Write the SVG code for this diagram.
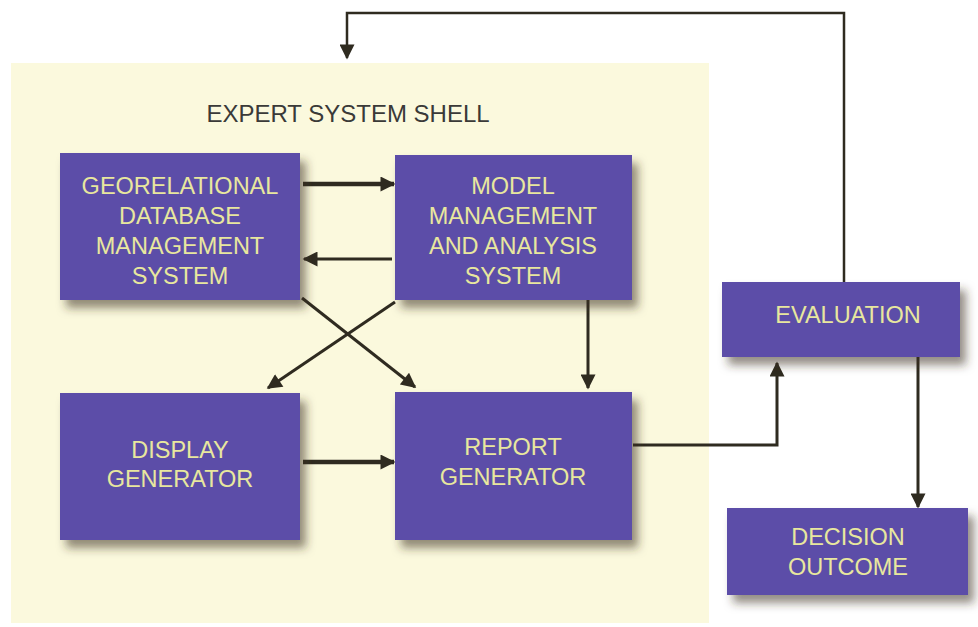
<svg xmlns="http://www.w3.org/2000/svg" width="978" height="627" viewBox="0 0 978 627">
<defs>
<style>
.box{fill:#5b4ea8;filter:url(#sh)}
.t{font-family:"Liberation Sans",Arial,sans-serif;font-size:23.5px;fill:#e8e79e;text-anchor:middle}
.title{font-family:"Liberation Sans",Arial,sans-serif;font-size:24px;fill:#3a3a38;text-anchor:middle}
.c{fill:none;stroke:#2f2b20;stroke-width:3}
.thick{stroke-width:4.5}
.thin{stroke-width:2.5}
</style>
<filter id="sh" x="-20%" y="-20%" width="150%" height="150%">
<feDropShadow dx="6" dy="8" stdDeviation="5" flood-color="#3a3320" flood-opacity="0.55"/>
</filter>
<marker id="ah" viewBox="0 0 10 10" refX="9" refY="5" markerWidth="16" markerHeight="15" markerUnits="userSpaceOnUse" orient="auto">
<path d="M0,0 L10,5 L0,10 Z" fill="#2f2b20"/>
</marker>
</defs>
<rect width="978" height="627" fill="#ffffff"/>
<g id="shell">
<rect x="11" y="63" width="698" height="560" fill="#fbf9dd"/>
<text class="title" x="348" y="122">EXPERT SYSTEM SHELL</text>
</g>
<g id="connectors">
<line class="c thick" x1="303" y1="184" x2="394" y2="184" marker-end="url(#ah)"/>
<line class="c" x1="392" y1="259" x2="304" y2="259" marker-end="url(#ah)"/>
<line class="c" x1="302" y1="298" x2="415" y2="387" marker-end="url(#ah)"/>
<line class="c" x1="395" y1="302" x2="268" y2="388" marker-end="url(#ah)"/>
<line class="c" x1="588" y1="300" x2="588" y2="388" marker-end="url(#ah)"/>
<line class="c thick" x1="303" y1="462" x2="394" y2="462" marker-end="url(#ah)"/>
<polyline class="c" points="633,445 777,445 777,363" marker-end="url(#ah)"/>
<line class="c" x1="918" y1="357" x2="918" y2="507" marker-end="url(#ah)"/>
<polyline class="c thin" points="844,282 844,13 347,13 347,58" marker-end="url(#ah)"/>
</g>
<g id="geo">
<rect class="box" x="60" y="153" width="240" height="147"/>
<text class="t" x="180" y="194">GEORELATIONAL</text>
<text class="t" x="180" y="224">DATABASE</text>
<text class="t" x="180" y="254">MANAGEMENT</text>
<text class="t" x="180" y="284">SYSTEM</text>
</g>
<g id="model">
<rect class="box" x="395" y="155" width="237" height="145"/>
<text class="t" x="513" y="194">MODEL</text>
<text class="t" x="513" y="224">MANAGEMENT</text>
<text class="t" x="513" y="254">AND ANALYSIS</text>
<text class="t" x="513" y="284">SYSTEM</text>
</g>
<g id="display">
<rect class="box" x="60" y="393" width="240" height="147"/>
<text class="t" x="180" y="458">DISPLAY</text>
<text class="t" x="180" y="487">GENERATOR</text>
</g>
<g id="report">
<rect class="box" x="395" y="392" width="237" height="148"/>
<text class="t" x="513" y="455">REPORT</text>
<text class="t" x="513" y="485">GENERATOR</text>
</g>
<g id="evaluation">
<rect class="box" x="722" y="282" width="238" height="75"/>
<text class="t" x="848" y="323">EVALUATION</text>
</g>
<g id="decision">
<rect class="box" x="727" y="508" width="241" height="87"/>
<text class="t" x="848" y="545">DECISION</text>
<text class="t" x="848" y="575">OUTCOME</text>
</g>
</svg>
